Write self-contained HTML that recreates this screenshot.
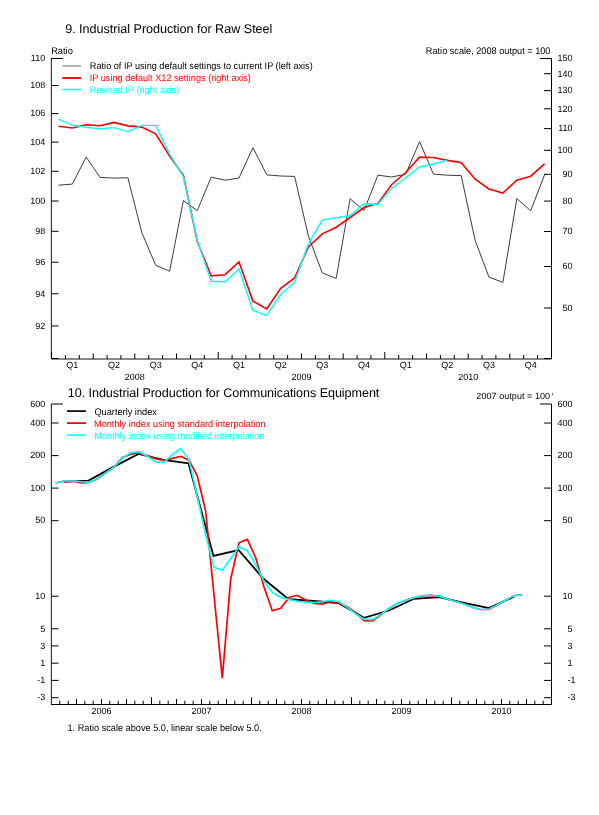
<!DOCTYPE html>
<html><head><meta charset="utf-8"><style>
html,body{margin:0;padding:0;background:#fff;}
svg{display:block;will-change:transform;}
text{font-family:"Liberation Sans",sans-serif;text-rendering:geometricPrecision;}
</style></head><body>
<svg width="599" height="815" viewBox="0 0 599 815">
<rect width="599" height="815" fill="#fff"/>
<text id="t1" x="65.16" y="33.00" font-size="12.6" fill="#000" textLength="207.24" lengthAdjust="spacing">9. Industrial Production for Raw Steel</text>
<text id="ratio" x="51.17" y="54.00" font-size="9.6" fill="#000" textLength="21.71" lengthAdjust="spacingAndGlyphs">Ratio</text>
<text id="rs" x="425.85" y="54.00" font-size="9.6" fill="#000" textLength="124.59" lengthAdjust="spacingAndGlyphs">Ratio scale, 2008 output = 100</text>
<g class="ln">
<g stroke="#000" stroke-width="1" fill="none">
<path d="M51.4,58.5 V358.5" stroke="#333" stroke-width="1.15"/><path d="M551.5,58.5 V358.5"/>
<path d="M51.0,58.5 H63 M552.0,58.5 H540"/>
</g>
<path d="M51.5,359.0 H551.5" stroke="#000" stroke-width="1.3" opacity="0.62" fill="none"/>
<g stroke="#000" stroke-width="1" fill="none">
<path d="M51.5,85.5 H58.5"/>
<path d="M51.5,113.6 H58.5"/>
<path d="M51.5,142.1 H58.5"/>
<path d="M51.5,171.3 H58.5"/>
<path d="M51.5,201.0 H58.5"/>
<path d="M51.5,231.3 H58.5"/>
<path d="M51.5,262.2 H58.5"/>
<path d="M51.5,293.8 H58.5"/>
<path d="M51.5,326.0 H58.5"/>
<path d="M544,73.7 H551.5"/>
<path d="M544,90.6 H551.5"/>
<path d="M544,108.8 H551.5"/>
<path d="M544,128.6 H551.5"/>
<path d="M544,150.3 H551.5"/>
<path d="M544,174.3 H551.5"/>
<path d="M544,201.1 H551.5"/>
<path d="M544,231.5 H551.5"/>
<path d="M544,266.5 H551.5"/>
<path d="M544,308.0 H551.5"/>
<path d="M65.4,359.0 V355.0"/>
<path d="M79.3,359.0 V355.0"/>
<path d="M93.2,359.0 V353.5"/>
<path d="M107.1,359.0 V355.0"/>
<path d="M120.9,359.0 V355.0"/>
<path d="M134.8,359.0 V353.5"/>
<path d="M148.7,359.0 V355.0"/>
<path d="M162.6,359.0 V355.0"/>
<path d="M176.5,359.0 V353.5"/>
<path d="M190.4,359.0 V355.0"/>
<path d="M204.3,359.0 V355.0"/>
<path d="M218.2,359.0 V352.0"/>
<path d="M232.1,359.0 V355.0"/>
<path d="M245.9,359.0 V355.0"/>
<path d="M259.8,359.0 V353.5"/>
<path d="M273.7,359.0 V355.0"/>
<path d="M287.6,359.0 V355.0"/>
<path d="M301.5,359.0 V353.5"/>
<path d="M315.4,359.0 V355.0"/>
<path d="M329.3,359.0 V355.0"/>
<path d="M343.2,359.0 V353.5"/>
<path d="M357.1,359.0 V355.0"/>
<path d="M370.9,359.0 V355.0"/>
<path d="M384.8,359.0 V352.0"/>
<path d="M398.7,359.0 V355.0"/>
<path d="M412.6,359.0 V355.0"/>
<path d="M426.5,359.0 V353.5"/>
<path d="M440.4,359.0 V355.0"/>
<path d="M454.3,359.0 V355.0"/>
<path d="M468.2,359.0 V353.5"/>
<path d="M482.1,359.0 V355.0"/>
<path d="M495.9,359.0 V355.0"/>
<path d="M509.8,359.0 V353.5"/>
<path d="M523.7,359.0 V355.0"/>
<path d="M537.6,359.0 V355.0"/>
<path d="M51.5,359.0 V352 M51.0,358.5 H58.5 M551.5,359.0 V352 M552.0,358.5 H544"/>
</g>
</g>
<text id="l1_110" x="45.20" y="60.80" font-size="9" fill="#000" text-anchor="end">110</text>
<text id="l1_108" x="45.20" y="88.32" font-size="9" fill="#000" text-anchor="end">108</text>
<text id="l1_106" x="45.20" y="116.36" font-size="9" fill="#000" text-anchor="end">106</text>
<text id="l1_104" x="45.20" y="144.93" font-size="9" fill="#000" text-anchor="end">104</text>
<text id="l1_102" x="45.20" y="174.06" font-size="9" fill="#000" text-anchor="end">102</text>
<text id="l1_100" x="45.20" y="203.77" font-size="9" fill="#000" text-anchor="end">100</text>
<text id="l1_98" x="45.20" y="234.07" font-size="9" fill="#000" text-anchor="end">98</text>
<text id="l1_96" x="45.20" y="265.00" font-size="9" fill="#000" text-anchor="end">96</text>
<text id="l1_94" x="45.20" y="296.58" font-size="9" fill="#000" text-anchor="end">94</text>
<text id="l1_92" x="45.20" y="328.84" font-size="9" fill="#000" text-anchor="end">92</text>
<text id="r1_150" x="572.60" y="60.80" font-size="9" fill="#000" text-anchor="end">150</text>
<text id="r1_140" x="572.60" y="76.50" font-size="9" fill="#000" text-anchor="end">140</text>
<text id="r1_130" x="572.60" y="93.37" font-size="9" fill="#000" text-anchor="end">130</text>
<text id="r1_120" x="572.60" y="111.59" font-size="9" fill="#000" text-anchor="end">120</text>
<text id="r1_110" x="572.60" y="131.39" font-size="9" fill="#000" text-anchor="end">110</text>
<text id="r1_100" x="572.60" y="153.08" font-size="9" fill="#000" text-anchor="end">100</text>
<text id="r1_90" x="572.60" y="177.06" font-size="9" fill="#000" text-anchor="end">90</text>
<text id="r1_80" x="572.60" y="203.87" font-size="9" fill="#000" text-anchor="end">80</text>
<text id="r1_70" x="572.60" y="234.26" font-size="9" fill="#000" text-anchor="end">70</text>
<text id="r1_60" x="572.60" y="269.35" font-size="9" fill="#000" text-anchor="end">60</text>
<text id="r1_50" x="572.60" y="310.84" font-size="9" fill="#000" text-anchor="end">50</text>
<text id="q0_0" x="72.33" y="368.00" font-size="9" fill="#000" text-anchor="middle">Q1</text>
<text id="q0_1" x="114.00" y="368.00" font-size="9" fill="#000" text-anchor="middle">Q2</text>
<text id="q0_2" x="155.67" y="368.00" font-size="9" fill="#000" text-anchor="middle">Q3</text>
<text id="q0_3" x="197.33" y="368.00" font-size="9" fill="#000" text-anchor="middle">Q4</text>
<text id="y1_0" x="134.83" y="380.00" font-size="9" fill="#000" text-anchor="middle">2008</text>
<text id="q1_0" x="239.00" y="368.00" font-size="9" fill="#000" text-anchor="middle">Q1</text>
<text id="q1_1" x="280.67" y="368.00" font-size="9" fill="#000" text-anchor="middle">Q2</text>
<text id="q1_2" x="322.33" y="368.00" font-size="9" fill="#000" text-anchor="middle">Q3</text>
<text id="q1_3" x="364.00" y="368.00" font-size="9" fill="#000" text-anchor="middle">Q4</text>
<text id="y1_1" x="301.50" y="380.00" font-size="9" fill="#000" text-anchor="middle">2009</text>
<text id="q2_0" x="405.67" y="368.00" font-size="9" fill="#000" text-anchor="middle">Q1</text>
<text id="q2_1" x="447.33" y="368.00" font-size="9" fill="#000" text-anchor="middle">Q2</text>
<text id="q2_2" x="489.00" y="368.00" font-size="9" fill="#000" text-anchor="middle">Q3</text>
<text id="q2_3" x="530.67" y="368.00" font-size="9" fill="#000" text-anchor="middle">Q4</text>
<text id="y1_2" x="468.17" y="380.00" font-size="9" fill="#000" text-anchor="middle">2010</text>
<g class="ln">
<path d="M62.3,65.9 H81.1" stroke="#aaa" stroke-width="1.7"/>
<path d="M62.3,78 H81.1" stroke="#f00" stroke-width="1.9"/>
<path d="M62.3,89.5 H81.1" stroke="#0ff" stroke-width="1.5"/>
</g>
<text id="lg1" x="89.87" y="69.30" font-size="9.6" fill="#000" textLength="222.87" lengthAdjust="spacingAndGlyphs">Ratio of IP using default settings to current IP (left axis)</text>
<text id="lg2" x="89.68" y="81.40" font-size="9.6" fill="#f00" textLength="161.23" lengthAdjust="spacingAndGlyphs">IP using default X12 settings (right axis)</text>
<text id="lg3" x="89.83" y="93.20" font-size="9.6" fill="#0ff" textLength="89.40" lengthAdjust="spacingAndGlyphs">Revised IP (right axis)</text>
<polyline class="ln" points="58.4,185.2 72.3,184.1 86.2,157.1 100.1,177.4 114.0,178.1 127.9,177.8 141.8,232.5 155.7,265.3 169.6,271.2 183.4,200.5 197.3,210.6 211.2,177.1 225.1,180.2 239.0,178.0 252.9,147.7 266.8,174.9 280.7,176.0 294.6,176.4 308.4,236.0 322.3,272.9 336.2,278.4 350.1,198.8 364.0,210.5 377.9,175.2 391.8,177.0 405.7,174.1 419.6,141.6 433.4,174.1 447.3,175.2 461.2,175.6 475.1,240.3 489.0,277.2 502.9,282.3 516.8,198.7 530.7,210.7 544.6,174.7" fill="none" stroke="#333" stroke-width="0.95" stroke-linejoin="miter"/>
<polyline class="ln" points="58.4,126.3 72.3,128.0 86.2,124.7 100.1,125.8 114.0,122.4 127.9,125.9 141.8,127.1 155.7,133.8 169.6,156.0 183.4,175.4 197.3,241.5 211.2,275.8 225.1,274.7 239.0,262.0 252.9,301.1 266.8,308.9 280.7,288.3 294.6,278.0 308.4,247.0 322.3,233.8 336.2,227.2 350.1,217.5 364.0,207.5 377.9,203.4 391.8,184.5 405.7,172.5 419.6,157.1 433.4,157.5 447.3,160.4 461.2,162.6 475.1,179.2 489.0,188.9 502.9,193.0 516.8,180.2 530.7,176.2 544.6,163.9" fill="none" stroke="#f00" stroke-width="1.6" stroke-linejoin="miter"/>
<polyline class="ln" points="58.4,119.1 72.3,125.1 86.2,127.4 100.1,128.7 114.0,127.6 127.9,131.6 141.8,125.4 155.7,125.4 169.6,154.0 183.4,176.8 197.3,240.4 211.2,281.3 225.1,281.7 239.0,269.1 252.9,310.4 266.8,315.5 280.7,294.5 294.6,282.4 308.4,243.8 322.3,220.1 336.2,217.7 350.1,215.5 364.0,204.0 377.9,204.3 391.8,188.4 405.7,177.8 419.6,167.0 433.4,164.0 447.3,160.4" fill="none" stroke="#0ff" stroke-width="1.4" stroke-linejoin="miter"/>
<text id="t2" x="67.79" y="397.00" font-size="12.6" fill="#000" textLength="311.56" lengthAdjust="spacing">10. Industrial Production for Communications Equipment</text>
<text id="op" x="476.33" y="399.00" font-size="9" fill="#000" textLength="73.80" lengthAdjust="spacing">2007 output = 100</text>
<path d="M552.6,393 V395.4" stroke="#444" stroke-width="0.8"/>
<g class="ln">
<g stroke="#000" stroke-width="1" fill="none">
<path d="M51.4,404.0 V704.5" stroke="#333" stroke-width="1.15"/><path d="M51.0,704.5 H551.5 V404.0"/>
<path d="M51.5,404.0 H63 M551.5,404.0 H540"/>
<path d="M51.5,423.0 H58.5 M544,423.0 H551.5"/>
<path d="M51.5,455.6 H58.5 M544,455.6 H551.5"/>
<path d="M51.5,488.1 H58.5 M544,488.1 H551.5"/>
<path d="M51.5,520.7 H58.5 M544,520.7 H551.5"/>
<path d="M51.5,596.2 H58.5 M544,596.2 H551.5"/>
<path d="M51.5,628.8 H58.5 M544,628.8 H551.5"/>
<path d="M51.5,645.9 H58.5 M544,645.9 H551.5"/>
<path d="M51.5,663.2 H58.5 M544,663.2 H551.5"/>
<path d="M51.5,680.4 H58.5 M544,680.4 H551.5"/>
<path d="M51.5,697.7 H58.5 M544,697.7 H551.5"/>
<path d="M59.8,704.5 V700.7"/>
<path d="M68.2,704.5 V700.7"/>
<path d="M76.5,704.5 V699.0"/>
<path d="M84.8,704.5 V700.7"/>
<path d="M93.2,704.5 V700.7"/>
<path d="M101.5,704.5 V699.0"/>
<path d="M109.8,704.5 V700.7"/>
<path d="M118.2,704.5 V700.7"/>
<path d="M126.5,704.5 V699.0"/>
<path d="M134.8,704.5 V700.7"/>
<path d="M143.2,704.5 V700.7"/>
<path d="M151.5,704.5 V697.2"/>
<path d="M159.8,704.5 V700.7"/>
<path d="M168.2,704.5 V700.7"/>
<path d="M176.5,704.5 V699.0"/>
<path d="M184.8,704.5 V700.7"/>
<path d="M193.2,704.5 V700.7"/>
<path d="M201.5,704.5 V699.0"/>
<path d="M209.8,704.5 V700.7"/>
<path d="M218.2,704.5 V700.7"/>
<path d="M226.5,704.5 V699.0"/>
<path d="M234.8,704.5 V700.7"/>
<path d="M243.2,704.5 V700.7"/>
<path d="M251.5,704.5 V697.2"/>
<path d="M259.8,704.5 V700.7"/>
<path d="M268.2,704.5 V700.7"/>
<path d="M276.5,704.5 V699.0"/>
<path d="M284.8,704.5 V700.7"/>
<path d="M293.2,704.5 V700.7"/>
<path d="M301.5,704.5 V699.0"/>
<path d="M309.8,704.5 V700.7"/>
<path d="M318.2,704.5 V700.7"/>
<path d="M326.5,704.5 V699.0"/>
<path d="M334.8,704.5 V700.7"/>
<path d="M343.2,704.5 V700.7"/>
<path d="M351.5,704.5 V697.2"/>
<path d="M359.8,704.5 V700.7"/>
<path d="M368.2,704.5 V700.7"/>
<path d="M376.5,704.5 V699.0"/>
<path d="M384.8,704.5 V700.7"/>
<path d="M393.2,704.5 V700.7"/>
<path d="M401.5,704.5 V699.0"/>
<path d="M409.8,704.5 V700.7"/>
<path d="M418.2,704.5 V700.7"/>
<path d="M426.5,704.5 V699.0"/>
<path d="M434.8,704.5 V700.7"/>
<path d="M443.2,704.5 V700.7"/>
<path d="M451.5,704.5 V697.2"/>
<path d="M459.8,704.5 V700.7"/>
<path d="M468.2,704.5 V700.7"/>
<path d="M476.5,704.5 V699.0"/>
<path d="M484.8,704.5 V700.7"/>
<path d="M493.2,704.5 V700.7"/>
<path d="M501.5,704.5 V699.0"/>
<path d="M509.8,704.5 V700.7"/>
<path d="M518.2,704.5 V700.7"/>
<path d="M526.5,704.5 V699.0"/>
<path d="M534.8,704.5 V700.7"/>
<path d="M543.2,704.5 V700.7"/>
</g>
</g>
<text id="l2_600" x="45.20" y="406.80" font-size="9" fill="#000" text-anchor="end">600</text>
<text id="r2_600" x="572.60" y="406.80" font-size="9" fill="#000" text-anchor="end">600</text>
<text id="l2_400" x="45.20" y="425.84" font-size="9" fill="#000" text-anchor="end">400</text>
<text id="r2_400" x="572.60" y="425.84" font-size="9" fill="#000" text-anchor="end">400</text>
<text id="l2_200" x="45.20" y="458.38" font-size="9" fill="#000" text-anchor="end">200</text>
<text id="r2_200" x="572.60" y="458.38" font-size="9" fill="#000" text-anchor="end">200</text>
<text id="l2_100" x="45.20" y="490.92" font-size="9" fill="#000" text-anchor="end">100</text>
<text id="r2_100" x="572.60" y="490.92" font-size="9" fill="#000" text-anchor="end">100</text>
<text id="l2_50" x="45.20" y="523.47" font-size="9" fill="#000" text-anchor="end">50</text>
<text id="r2_50" x="572.60" y="523.47" font-size="9" fill="#000" text-anchor="end">50</text>
<text id="l2_10" x="45.20" y="599.03" font-size="9" fill="#000" text-anchor="end">10</text>
<text id="r2_10" x="572.60" y="599.03" font-size="9" fill="#000" text-anchor="end">10</text>
<text id="l2_5" x="45.20" y="631.57" font-size="9" fill="#000" text-anchor="end">5</text>
<text id="r2_5" x="572.60" y="631.57" font-size="9" fill="#000" text-anchor="end">5</text>
<text id="l2_3" x="45.20" y="648.74" font-size="9" fill="#000" text-anchor="end">3</text>
<text id="r2_3" x="572.60" y="648.74" font-size="9" fill="#000" text-anchor="end">3</text>
<text id="l2_1" x="45.20" y="665.98" font-size="9" fill="#000" text-anchor="end">1</text>
<text id="r2_1" x="572.60" y="665.98" font-size="9" fill="#000" text-anchor="end">1</text>
<text id="l2_-1" x="45.20" y="683.22" font-size="9" fill="#000" text-anchor="end">-1</text>
<text id="r2_-1" x="575.60" y="683.22" font-size="9" fill="#000" text-anchor="end">-1</text>
<text id="l2_-3" x="45.20" y="700.46" font-size="9" fill="#000" text-anchor="end">-3</text>
<text id="r2_-3" x="575.60" y="700.46" font-size="9" fill="#000" text-anchor="end">-3</text>
<text id="y2_0" x="101.50" y="714.00" font-size="9" fill="#000" text-anchor="middle">2006</text>
<text id="y2_1" x="201.50" y="714.00" font-size="9" fill="#000" text-anchor="middle">2007</text>
<text id="y2_2" x="301.50" y="714.00" font-size="9" fill="#000" text-anchor="middle">2008</text>
<text id="y2_3" x="401.50" y="714.00" font-size="9" fill="#000" text-anchor="middle">2009</text>
<text id="y2_4" x="501.50" y="714.00" font-size="9" fill="#000" text-anchor="middle">2010</text>
<text id="fn" x="67.53" y="731.00" font-size="9.6" fill="#000" textLength="194.20" lengthAdjust="spacingAndGlyphs">1. Ratio scale above 5.0, linear scale below 5.0.</text>
<g class="ln">
<path d="M67,411.1 H86" stroke="#000" stroke-width="1.7"/>
<path d="M67,423.1 H86" stroke="#f00" stroke-width="1.8"/>
<path d="M67,435.1 H86" stroke="#0ff" stroke-width="1.6"/>
</g>
<text id="lq" x="94.43" y="414.80" font-size="9.6" fill="#000" textLength="62.45" lengthAdjust="spacingAndGlyphs">Quarterly index</text>
<text id="lm1" x="94.07" y="426.80" font-size="9.6" fill="#f00" textLength="171.47" lengthAdjust="spacingAndGlyphs">Monthly index using standard interpolation</text>
<text id="lm2" x="94.37" y="438.50" font-size="9.6" fill="#0ff" textLength="170.12" lengthAdjust="spacingAndGlyphs">Monthly index using modified interpolation</text>
<polyline class="ln" points="63.5,481.8 88.5,480.6 113.5,466.9 138.5,453.9 163.5,459.8 188.5,463.4 213.5,556.0 238.5,550.0 263.5,578.8 288.5,599.2 313.5,601.0 338.5,603.0 364.0,617.9 389.0,610.5 414.0,598.8 439.0,597.2 464.0,602.8 489.0,608.1 514.0,596.7" fill="none" stroke="#000" stroke-width="1.8"/>
<polyline class="ln" points="55.7,483.0 64.0,481.0 72.3,481.0 80.7,483.0 89.0,482.5 97.3,479.0 105.7,473.0 114.0,467.2 122.3,457.7 130.7,454.1 139.0,452.7 147.3,455.6 155.7,458.8 164.0,460.5 172.3,458.4 180.7,456.3 189.0,460.2 197.3,476.0 205.7,511.3 214.0,595.0 222.3,678.3 230.7,579.0 239.0,542.8 247.3,539.4 255.7,557.5 264.0,587.0 272.3,610.8 280.7,608.3 289.0,597.5 297.3,595.3 305.7,600.0 314.0,603.3 322.3,604.2 330.7,601.7 339.0,603.0 347.3,606.7 355.7,612.7 364.0,620.6 372.3,621.0 380.7,615.0 389.0,608.5 397.3,603.5 405.7,600.3 414.0,597.8 422.3,595.8 430.7,595.3 439.0,596.2 447.3,599.0 455.7,601.5 464.0,604.0 472.3,607.2 480.7,609.5 489.0,609.3 497.3,604.9 505.7,600.2 514.0,595.7 522.3,594.7" fill="none" stroke="#f00" stroke-width="1.7"/>
<polyline class="ln" points="55.7,483.0 64.0,481.0 72.3,481.0 80.7,481.8 89.0,482.1 97.3,478.9 105.7,473.0 114.0,467.2 122.3,458.4 130.7,452.7 139.0,451.7 147.3,456.3 155.7,462.2 164.0,462.2 172.3,454.9 180.7,448.5 189.0,459.8 197.3,496.7 205.7,535.0 214.0,567.3 222.3,570.3 230.7,558.5 239.0,546.7 247.3,550.6 255.7,564.8 264.0,581.0 272.3,592.5 280.7,597.5 289.0,599.5 297.3,601.3 305.7,602.2 314.0,602.5 322.3,601.7 330.7,600.3 339.0,601.7 347.3,607.4 355.7,614.0 364.0,619.2 372.3,619.7 380.7,614.6 389.0,608.5 397.3,603.5 405.7,600.3 414.0,597.8 422.3,595.8 430.7,595.3 439.0,596.2 447.3,599.0 455.7,601.5 464.0,604.0 472.3,607.2 480.7,609.5 489.0,609.3 497.3,604.9 505.7,600.2 514.0,595.7 522.3,594.7" fill="none" stroke="#0ff" stroke-width="1.6"/>
</svg></body></html>
